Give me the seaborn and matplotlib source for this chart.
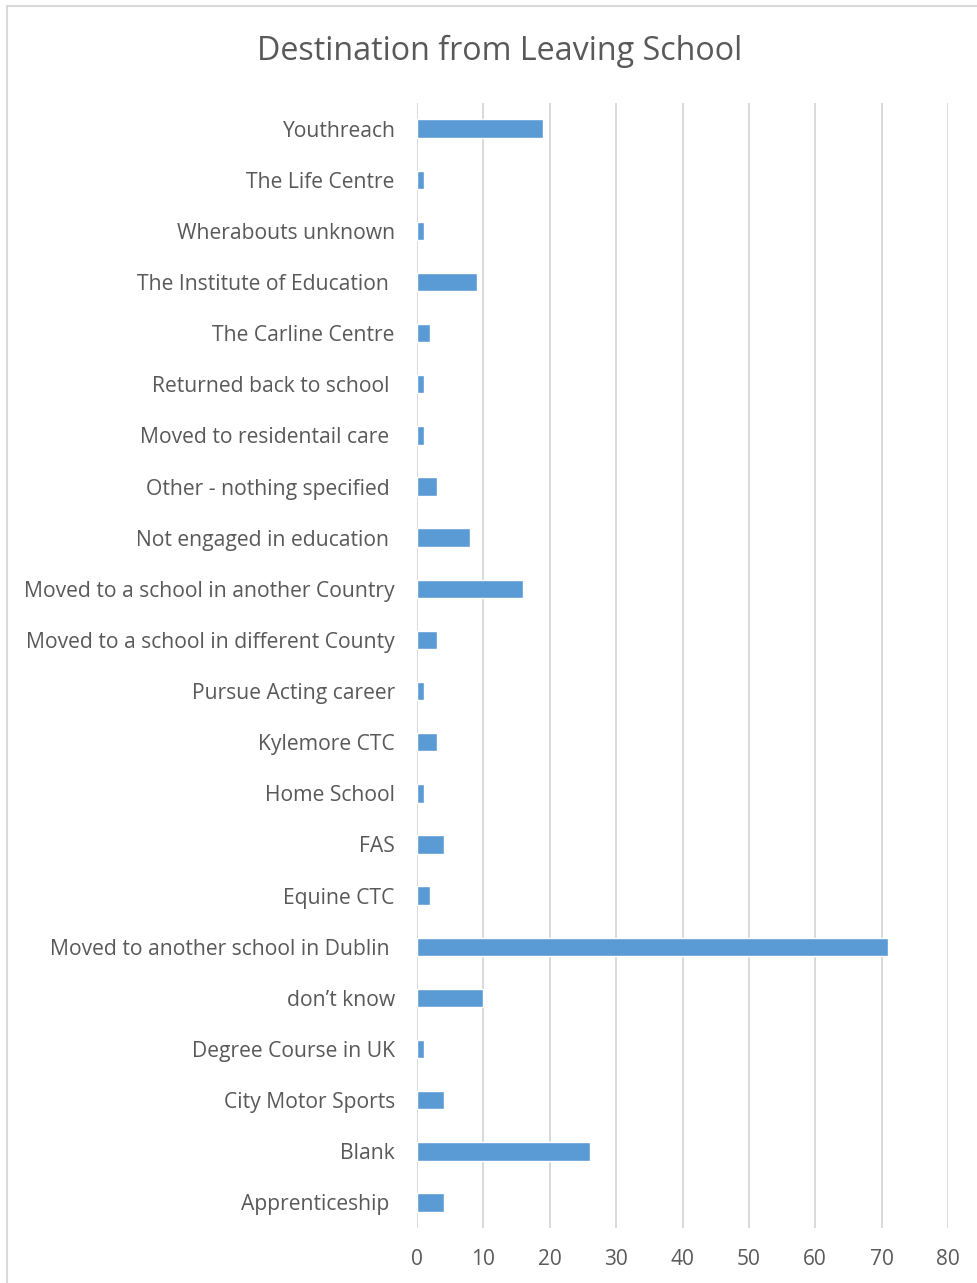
import matplotlib
matplotlib.use("Agg")
import matplotlib.pyplot as plt
import seaborn as sns
import pandas as pd
from matplotlib.patches import Rectangle

destinations = [
    "Youthreach", "The Life Centre", "Wherabouts unknown", "The Institute of Education ",
    "The Carline Centre", "Returned back to school ", "Moved to residentail care ",
    "Other - nothing specified ", "Not engaged in education ",
    "Moved to a school in another Country", "Moved to a school in different County",
    "Pursue Acting career", "Kylemore CTC", "Home School", "FAS", "Equine CTC",
    "Moved to another school in Dublin ", "don\u2019t know", "Degree Course in UK",
    "City Motor Sports", "Blank", "Apprenticeship ",
]
counts = [19, 1, 1, 9, 2, 1, 1, 3, 8, 16, 3, 1, 3, 1, 4, 2, 71, 10, 1, 4, 26, 4]
x_ticks = [0, 10, 20, 30, 40, 50, 60, 70, 80]

df = pd.DataFrame({"destination": destinations, "count": counts})

sns.set_theme(style="white")
plt.rcParams["font.family"] = ["Open Sans", "DejaVu Sans"]
text_color = "#595959"
grid_color = "#D9D9D9"

fig = plt.figure(figsize=(9.78, 12.83), dpi=100)
ax = fig.add_axes([417 / 978, 1 - 1228 / 1283, (948 - 417) / 978, (1228 - 103) / 1283])

sns.barplot(data=df, y="destination", x="count", order=destinations, orient="h",
            color="#5B9BD5", saturation=1, width=0.36, ax=ax, zorder=3)

ax.set_xlim(0, 80)
ax.set_xticks(x_ticks)
ax.set_xticklabels([str(t) for t in x_ticks])
ax.xaxis.grid(True, color=grid_color, linewidth=1.4, zorder=0)
ax.set_axisbelow(True)
for s in ax.spines.values():
    s.set_visible(False)
ax.tick_params(axis="both", length=0, colors=text_color)
ax.tick_params(axis="y", pad=16, labelsize=15.2)
ax.tick_params(axis="x", pad=15, labelsize=15)
ax.set_xlabel("")
ax.set_ylabel("")

fig.text(0.511, 1 - 51 / 1283, "Destination from Leaving School", ha="center", va="center",
         fontsize=23.2, color=text_color, family=["Open Sans", "DejaVu Sans"])

fig.patches.append(Rectangle((7 / 978, -0.01), 1.02, 1 - 6 / 1283 + 0.01, transform=fig.transFigure,
                             fill=False, edgecolor=grid_color, linewidth=1.5))

fig.savefig("out.png", dpi=100)
